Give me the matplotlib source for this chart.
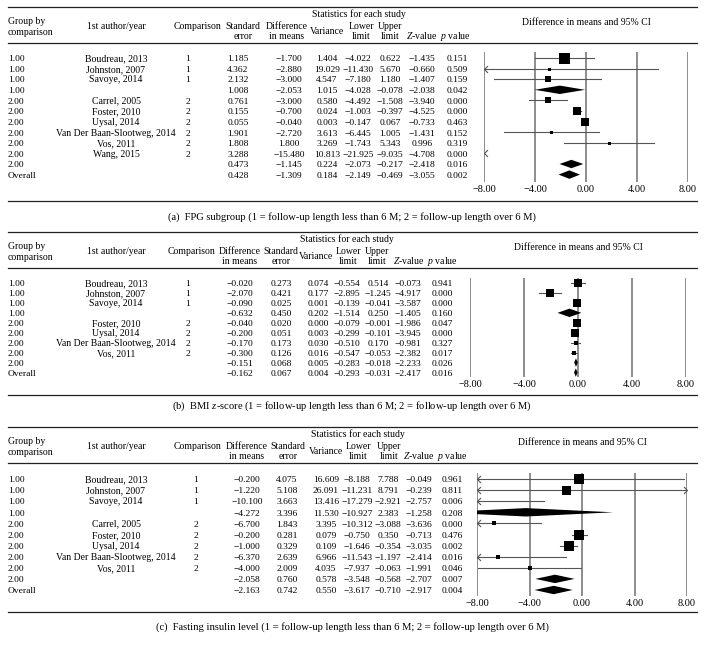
import numpy as np
import matplotlib.pyplot as plt
from matplotlib.lines import Line2D
from matplotlib.path import Path

plt.rcParams['font.family'] = ['Liberation Serif', 'DejaVu Serif']
plt.rcParams['mathtext.fontset'] = 'custom'
plt.rcParams['mathtext.rm'] = 'Liberation Serif'
plt.rcParams['mathtext.it'] = 'Liberation Serif:italic'

# ---------------- data: (a) FPG ----------------
a_group = ["1.00", "1.00", "1.00", "1.00", "2.00", "2.00", "2.00", "2.00", "2.00", "2.00", "2.00", "Overall"]
a_author = ["Boudreau, 2013", "Johnston, 2007", "Savoye, 2014", "", "Carrel, 2005", "Foster, 2010",
            "Uysal, 2014", "Van Der Baan-Slootweg, 2014", "Vos, 2011", "Wang, 2015", "", ""]
a_comp = ["1", "1", "1", "", "2", "2", "2", "2", "2", "2", "", ""]
a_se = [1.185, 4.362, 2.132, 1.008, 0.761, 0.155, 0.055, 1.901, 1.808, 3.288, 0.473, 0.428]
a_diff = [-1.700, -2.880, -3.000, -2.053, -3.000, -0.700, -0.040, -2.720, 1.800, -15.480, -1.145, -1.309]
a_var = [1.404, 19.029, 4.547, 1.015, 0.580, 0.024, 0.003, 3.613, 3.269, 10.813, 0.224, 0.184]
a_lower = [-4.022, -11.430, -7.180, -4.028, -4.492, -1.003, -0.147, -6.445, -1.743, -21.925, -2.073, -2.149]
a_upper = [0.622, 5.670, 1.180, -0.078, -1.508, -0.397, 0.067, 1.005, 5.343, -9.035, -0.217, -0.469]
a_z = [-1.435, -0.660, -1.407, -2.038, -3.940, -4.525, -0.733, -1.431, 0.996, -4.708, -2.418, -3.055]
a_p = [0.151, 0.509, 0.159, 0.042, 0.000, 0.000, 0.463, 0.152, 0.319, 0.000, 0.016, 0.002]

# ---------------- data: (b) BMI z-score ----------------
b_group = ["1.00", "1.00", "1.00", "1.00", "2.00", "2.00", "2.00", "2.00", "2.00", "Overall"]
b_author = ["Boudreau, 2013", "Johnston, 2007", "Savoye, 2014", "", "Foster, 2010", "Uysal, 2014",
            "Van Der Baan-Slootweg, 2014", "Vos, 2011", "", ""]
b_comp = ["1", "1", "1", "", "2", "2", "2", "2", "", ""]
b_diff = [-0.020, -2.070, -0.090, -0.632, -0.040, -0.200, -0.170, -0.300, -0.151, -0.162]
b_se = [0.273, 0.421, 0.025, 0.450, 0.020, 0.051, 0.173, 0.126, 0.068, 0.067]
b_var = [0.074, 0.177, 0.001, 0.202, 0.000, 0.003, 0.030, 0.016, 0.005, 0.004]
b_lower = [-0.554, -2.895, -0.139, -1.514, -0.079, -0.299, -0.510, -0.547, -0.283, -0.293]
b_upper = [0.514, -1.245, -0.041, 0.250, -0.001, -0.101, 0.170, -0.053, -0.018, -0.031]
b_z = [-0.073, -4.917, -3.587, -1.405, -1.986, -3.945, -0.981, -2.382, -2.233, -2.417]
b_p = [0.941, 0.000, 0.000, 0.160, 0.047, 0.000, 0.327, 0.017, 0.026, 0.016]

# ---------------- data: (c) fasting insulin ----------------
c_group = ["1.00", "1.00", "1.00", "1.00", "2.00", "2.00", "2.00", "2.00", "2.00", "2.00", "Overall"]
c_author = ["Boudreau, 2013", "Johnston, 2007", "Savoye, 2014", "", "Carrel, 2005", "Foster, 2010",
            "Uysal, 2014", "Van Der Baan-Slootweg, 2014", "Vos, 2011", "", ""]
c_comp = ["1", "1", "1", "", "2", "2", "2", "2", "2", "", ""]
c_diff = [-0.200, -1.220, -10.100, -4.272, -6.700, -0.200, -1.000, -6.370, -4.000, -2.058, -2.163]
c_se = [4.075, 5.108, 3.663, 3.396, 1.843, 0.281, 0.329, 2.639, 2.009, 0.760, 0.742]
c_var = [16.609, 26.091, 13.416, 11.530, 3.395, 0.079, 0.109, 6.966, 4.035, 0.578, 0.550]
c_lower = [-8.188, -11.231, -17.279, -10.927, -10.312, -0.750, -1.646, -11.543, -7.937, -3.548, -3.617]
c_upper = [7.788, 8.791, -2.921, 2.383, -3.088, 0.350, -0.354, -1.197, -0.063, -0.568, -0.710]
c_z = [-0.049, -0.239, -2.757, -1.258, -3.636, -0.713, -3.035, -2.414, -1.991, -2.707, -2.917]
c_p = [0.961, 0.811, 0.006, 0.208, 0.000, 0.476, 0.002, 0.016, 0.046, 0.007, 0.004]

ticks = [-8, -4, 0, 4, 8]
tick_labels = ["−8.00", "−4.00", "0.00", "4.00", "8.00"]

# box sizes in pixels (style only)
a_box = [11, 3, 6, 0, 6, 8, 8, 3, 3, 3, 0, 0]
b_box = [8, 8, 8, 0, 8, 8, 5, 5, 0, 0]
c_box = [10, 9, 4, 0, 5, 10, 10, 4, 5, 0, 0]

W, H = 704, 650
FS = 7.0    # words
NFS = 6.8   # numbers


def fx(x):
    return x / W


def fy(y):
    return 1 - y / H


def num(v):
    return f"{v:.3f}".replace("-", "−")


fig = plt.figure(figsize=(W / 100, H / 100), dpi=100)


def txt(x, y, s, size=FS, ha="center"):
    # y is the visual middle of the line (pixels from top)
    fig.text(fx(x), fy(y + 3.3), s, fontsize=size, ha=ha, va="baseline")


arrow_l = Path([(1, 1), (0, 0), (1, -1)], [Path.MOVETO, Path.LINETO, Path.LINETO])
arrow_r = Path([(-1, 1), (0, 0), (-1, -1)], [Path.MOVETO, Path.LINETO, Path.LINETO])


def hline(y, x0=8, x1=697, lw=0.9):
    fig.add_artist(Line2D([fx(x0), fx(x1)], [fy(y), fy(y)], color="#222222", lw=lw))


def draw_panel(top, cols, heads, order, group, author, comp, cols_vals, lower, upper, diff, box,
               row0, step, plot_x, plot_y, tick_y, bottom, cap_y, caption):
    # rules
    hline(top)
    hline(top + 36)
    hline(bottom)
    # headers
    txt(8, top + 13.7, "Group by", ha="left")
    txt(8, top + 24.7, "comparison", ha="left")
    txt(cols["author"], top + 19, "1st author/year")
    txt(heads["comp"], top + 19, "Comparison")
    names = {"se": ("Standard", "error"), "diff": ("Difference", "in means"),
             "lower": ("Lower", "limit"), "upper": ("Upper", "limit")}
    for key in order + ["lower", "upper"]:
        l1, l2 = names[key]
        txt(heads[key], top + 19, l1)
        txt(heads[key], top + 28.3, l2)
    txt(heads["var"], top + 24, "Variance")
    txt(heads["z"], top + 28.3, "$Z$-value")
    txt(heads["p"], top + 28.3, "$p$ value")
    txt((heads["var"] + heads["upper"]) / 2, top + 6.8, "Statistics for each study")
    txt((plot_x[0] + plot_x[1]) / 2, top + 15, "Difference in means and 95% CI")
    txt(352, cap_y, caption, size=7.6)

    # table rows
    keys = order + ["var", "lower", "upper", "z", "p"]
    for i in range(len(group)):
        y = row0 + i * step
        txt(8, y, group[i], size=NFS, ha="left")
        txt(cols["author"], y, author[i])
        txt(cols["comp"], y, comp[i], size=NFS)
        for k in keys:
            txt(cols[k], y, num(cols_vals[k][i]), size=NFS)

    # forest plot
    ax = fig.add_axes([fx(plot_x[0]), fy(plot_y[1]), fx(plot_x[1]) - fx(plot_x[0]),
                       fy(plot_y[0]) - fy(plot_y[1])])
    ax.set_xlim(-8, 8)
    ax.set_ylim((plot_y[1] - row0) / step, (plot_y[0] - row0) / step)
    for s in ax.spines.values():
        s.set_visible(False)
    ax.set_yticks([])
    ax.set_xticks(ticks)
    ax.set_xticklabels(tick_labels, fontsize=7.4)
    ax.tick_params(axis="x", length=0, pad=(tick_y - plot_y[1]) * 0.72 - 4)
    ax.patch.set_alpha(0)
    for t in ticks:
        ax.axvline(t, color="#858585", lw=1.3, zorder=1)

    dh = 4.2 / step
    for i in range(len(group)):
        lo, hi, est = lower[i], upper[i], diff[i]
        if comp[i] == "":
            ax.fill([lo, est, hi, est], [i, i - dh, i, i + dh], color="black", lw=0, zorder=3)
            continue
        x0, x1 = max(lo, -8), min(hi, 8)
        if x1 > x0:
            ax.plot([x0, x1], [i, i], color="#555555", lw=0.8, zorder=2)
        if lo < -8:
            ax.plot([-8], [i], marker=arrow_l, ms=5, mfc="none", mec="#555555", mew=0.8,
                    clip_on=False, zorder=2)
        if hi > 8:
            ax.plot([8], [i], marker=arrow_r, ms=5, mfc="none", mec="#555555", mew=0.8,
                    clip_on=False, zorder=2)
        if -8 <= est <= 8:
            ax.plot([est], [i], marker="s", ms=box[i] * 0.72, color="black", mew=0, zorder=3)


draw_panel(7,
           dict(author=116, comp=188, se=238, diff=289, var=327, lower=358, upper=390, z=422, p=457),
           dict(comp=197, se=243, diff=287, var=327, lower=361, upper=390, z=422, p=455),
           ["se", "diff"], a_group, a_author, a_comp,
           dict(se=a_se, diff=a_diff, var=a_var, lower=a_lower, upper=a_upper, z=a_z, p=a_p),
           a_lower, a_upper, a_diff, a_box,
           58, 10.6, (484, 688), (52, 182), 191, 201, 216,
           "(a)  FPG subgroup (1 = follow-up length less than 6 M; 2 = follow-up length over 6 M)")

draw_panel(232,
           dict(author=116, comp=188, diff=240, se=281, var=318, lower=347, upper=378, z=408, p=442),
           dict(comp=192, diff=240, se=281, var=316, lower=348, upper=377, z=409, p=442),
           ["diff", "se"], b_group, b_author, b_comp,
           dict(se=b_se, diff=b_diff, var=b_var, lower=b_lower, upper=b_upper, z=b_z, p=b_p),
           b_lower, b_upper, b_diff, b_box,
           283, 9.95, (470, 686), (278, 377), 386, 395, 405,
           "(b)  BMI $z$-score (1 = follow-up length less than 6 M; 2 = follow-up length over 6 M)")

draw_panel(427,
           dict(author=116, comp=196, diff=247, se=287, var=326, lower=357, upper=388, z=419, p=452),
           dict(comp=197, diff=247, se=288, var=326, lower=358, upper=389, z=419, p=452),
           ["diff", "se"], c_group, c_author, c_comp,
           dict(se=c_se, diff=c_diff, var=c_var, lower=c_lower, upper=c_upper, z=c_z, p=c_p),
           c_lower, c_upper, c_diff, c_box,
           479, 11.1, (477, 687), (473, 596), 605, 612, 626,
           "(c)  Fasting insulin level (1 = follow-up length less than 6 M; 2 = follow-up length over 6 M)")

fig.savefig("out.png", dpi=100)
